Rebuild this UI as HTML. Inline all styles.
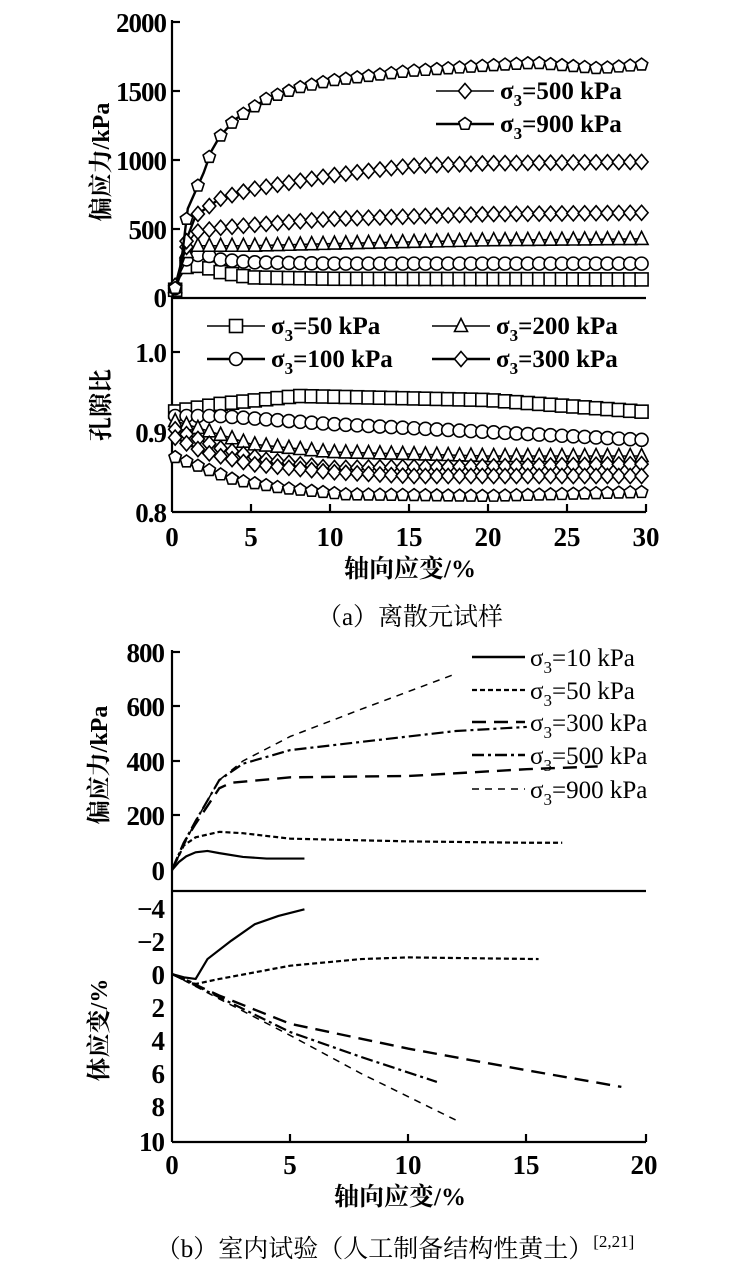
<!DOCTYPE html>
<html><head><meta charset="utf-8"><style>
html,body{margin:0;padding:0;background:#fff}
svg{display:block}
text{font-family:"Liberation Serif","Noto Serif CJK SC",serif;fill:#000}
</style></head><body>
<svg id="s" width="748" height="1273" viewBox="0 0 748 1273" xmlns="http://www.w3.org/2000/svg">
<g stroke="#000" stroke-width="2.2" fill="none">
<line x1="172" y1="20" x2="172" y2="512"/>
<line x1="172" y1="298" x2="646" y2="298"/>
<line x1="172" y1="512" x2="646" y2="512"/>
<line x1="172" y1="22" x2="180" y2="22"/>
<line x1="172" y1="91" x2="180" y2="91"/>
<line x1="172" y1="160" x2="180" y2="160"/>
<line x1="172" y1="229" x2="180" y2="229"/>
<line x1="172" y1="352" x2="180" y2="352"/>
<line x1="172" y1="432" x2="180" y2="432"/>
<line x1="251" y1="512" x2="251" y2="504"/><line x1="330" y1="512" x2="330" y2="504"/>
<line x1="409" y1="512" x2="409" y2="504"/><line x1="488" y1="512" x2="488" y2="504"/>
<line x1="567" y1="512" x2="567" y2="504"/><line x1="646" y1="512" x2="646" y2="504"/>
<line x1="172" y1="650" x2="172" y2="1142"/>
<line x1="172" y1="891" x2="646" y2="891"/>
<line x1="172" y1="1142" x2="646" y2="1142"/>
<line x1="172" y1="652" x2="180" y2="652"/><line x1="172" y1="706" x2="180" y2="706"/>
<line x1="172" y1="761" x2="180" y2="761"/><line x1="172" y1="815" x2="180" y2="815"/>
<line x1="290" y1="1142" x2="290" y2="1134"/><line x1="408" y1="1142" x2="408" y2="1134"/>
<line x1="526" y1="1142" x2="526" y2="1134"/><line x1="646" y1="1142" x2="646" y2="1134"/>
</g>
<g id="dyn"></g>
<g font-size="27" font-weight="bold" text-anchor="end" letter-spacing="-1">
<text x="166" y="32">2000</text><text x="166" y="101">1500</text><text x="166" y="170">1000</text>
<text x="166" y="239">500</text><text x="166" y="307">0</text>
<text x="166" y="362">1.0</text><text x="166" y="442">0.9</text><text x="166" y="522">0.8</text>
</g>
<g font-size="27" font-weight="bold" text-anchor="middle">
<text x="172" y="546">0</text><text x="251" y="546">5</text><text x="330" y="546">10</text>
<text x="409" y="546">15</text><text x="488" y="546">20</text><text x="567" y="546">25</text><text x="646" y="546">30</text>
<text x="410" y="577" font-size="25">轴向应变/%</text>
<text x="410" y="625" font-size="25" font-weight="normal">（a）离散元试样</text>
<text x="172" y="1174">0</text><text x="290" y="1174">5</text><text x="408" y="1174">10</text>
<text x="526" y="1174">15</text><text x="644" y="1174">20</text>
<text x="400" y="1205" font-size="25">轴向应变/%</text>
<text x="395" y="1257" font-size="25" font-weight="normal">（b）室内试验（人工制备结构性黄土）<tspan font-size="17" dy="-10">[2,21]</tspan></text>
</g>
<g font-size="27" font-weight="bold" text-anchor="end" letter-spacing="-1">
<text x="164" y="662">800</text><text x="164" y="716">600</text><text x="164" y="771">400</text>
<text x="164" y="825">200</text><text x="164" y="880">0</text>
<text x="164" y="918">−4</text><text x="164" y="951">−2</text><text x="164" y="984">0</text>
<text x="164" y="1017">2</text><text x="164" y="1050">4</text><text x="164" y="1083">6</text>
<text x="164" y="1116">8</text><text x="164" y="1151">10</text>
</g>
<g font-size="24" font-weight="bold" text-anchor="middle">
<text transform="translate(109,162) rotate(-90)">偏应力/kPa</text>
<text transform="translate(109,405) rotate(-90)">孔隙比</text>
<text transform="translate(107,765) rotate(-90)">偏应力/kPa</text>
<text transform="translate(107,1030) rotate(-90)">体应变/%</text>
</g>
</svg>
<script>
const NS="http://www.w3.org/2000/svg",G=document.getElementById('dyn');
function el(t,a){const e=document.createElementNS(NS,t);for(const k in a)e.setAttribute(k,a[k]);G.appendChild(e);return e;}
function interp(d,x){for(let i=0;i<d.length-1;i++){if(x>=d[i][0]&&x<=d[i+1][0]){const t=(x-d[i][0])/(d[i+1][0]-d[i][0]);return d[i][1]+t*(d[i+1][1]-d[i][1]);}}return d[d.length-1][1];}
function pts(d,fx,fy){return d.map(p=>fx(p[0])+","+fy(p[1])).join(" ");}
function marker(type,x,y,r){
 r=r||6.5;let a={fill:"#fff",stroke:"#000","stroke-width":1.6};
 if(type=="sq")el("rect",Object.assign({x:x-r,y:y-r,width:2*r,height:2*r},a));
 else if(type=="ci")el("circle",Object.assign({cx:x,cy:y,r:r},a));
 else if(type=="tr")el("polygon",Object.assign({points:`${x},${y-r-1} ${x-r},${y+r-1} ${x+r},${y+r-1}`},a));
 else if(type=="di")el("polygon",Object.assign({points:`${x},${y-r-1} ${x+r},${y} ${x},${y+r+1} ${x-r},${y}`},a));
 else if(type=="pe"){let s="";for(let i=0;i<5;i++){const an=-Math.PI/2+i*2*Math.PI/5;s+=(x+r*Math.cos(an))+","+(y+r*Math.sin(an))+" ";}el("polygon",Object.assign({points:s},a));}
}
const ax=v=>172+v*15.8, ay=v=>298-v*0.1375, ey=v=>512-(v-0.8)*800;
function series(d,fy,type,w){
 el("polyline",{points:pts(d,ax,fy),fill:"none",stroke:"#000","stroke-width":w});
 for(let x=0.2;x<=30.01;x+=0.72)marker(type,ax(x),fy(interp(d,x)));
}
const q50=[[0,0],[0.5,150],[1,240],[2,230],[3,190],[5,150],[10,140],[30,135]];
const q100=[[0,0],[0.5,180],[1,300],[2,320],[3,280],[5,260],[10,250],[30,250]];
const q200=[[0,0],[0.5,200],[1,360],[1.5,380],[5,380],[10,395],[20,420],[30,430]];
const q300=[[0,0],[0.5,220],[1,400],[1.5,480],[3,510],[5,530],[10,575],[20,610],[30,620]];
const q500=[[0,0],[0.5,220],[1,450],[1.5,600],[3,720],[5,790],[10,890],[15,960],[20,980],[30,990]];
const q900=[[0,0],[0.5,180],[1,650],[2,910],[2.5,1070],[3,1170],[4,1300],[6,1450],[8,1530],[10,1580],[15,1650],[20,1690],[23,1710],[27,1670],[30,1700]];
series(q50,ay,"sq",1.6);series(q100,ay,"ci",1.6);series(q200,ay,"tr",1.6);
series(q300,ay,"di",1.6);series(q500,ay,"di",2.4);series(q900,ay,"pe",2.4);
const e50=[[0,0.925],[3,0.935],[8,0.945],[20,0.94],[30,0.925]];
const e100=[[0,0.92],[3,0.92],[10,0.91],[20,0.9],[30,0.89]];
const e200=[[0,0.915],[5,0.885],[10,0.875],[20,0.87],[30,0.87]];
const e300=[[0,0.905],[3,0.88],[6,0.865],[10,0.855],[20,0.857],[30,0.86]];
const e500=[[0,0.895],[2,0.875],[5,0.86],[10,0.85],[15,0.845],[30,0.845]];
const e900=[[0,0.87],[2,0.855],[4,0.84],[7,0.83],[11,0.822],[20,0.82],[30,0.825]];
series(e50,ey,"sq",1.6);series(e100,ey,"ci",1.6);series(e200,ey,"tr",1.6);
series(e300,ey,"di",1.6);series(e500,ey,"di",2.4);series(e900,ey,"pe",2.4);
function leg(x,y,type,w,label){el("line",{x1:x,y1:y,x2:x+58,y2:y,stroke:"#000","stroke-width":w});marker(type,x+29,y,6.5);
 const t=el("text",{x:x+64,y:y+8,"font-size":25,"font-weight":"bold"});t.innerHTML='σ<tspan font-size="17" dy="7">3</tspan><tspan dy="-7">=</tspan>'+label;}
leg(436,91,"di",1.6,"500 kPa");leg(436,124,"pe",2.4,"900 kPa");
leg(207,326,"sq",1.6,"50 kPa");leg(432,326,"tr",1.6,"200 kPa");
leg(207,359,"ci",2.4,"100 kPa");leg(432,359,"di",2.4,"300 kPa");
const bx=v=>172+v*23.65, by=v=>870-v*0.2725, vy=v=>974+v*16.6;
function line(d,fy,dash,w){el("polyline",{points:pts(d,bx,fy),fill:"none",stroke:"#000","stroke-width":w,"stroke-dasharray":dash});}
const S="",D50="5,3",D300="14,8",D500="12,4,3,4",D900="7,6";
line([[0,0],[0.3,30],[0.6,50],[1,65],[1.5,70],[2,62],[3,48],[4,42],[5.6,42]],by,S,2.2);
line([[0,0],[0.5,90],[1,120],[2,140],[3,135],[5,115],[10,105],[15,100],[16.5,100]],by,D50,2.2);
line([[0,0],[0.5,100],[1,170],[2,300],[2.5,320],[5,340],[10,345],[15,370],[18,380]],by,D300,2.4);
line([[0,0],[0.5,100],[1,180],[2,330],[3,390],[5,440],[7,460],[12,510],[15,525]],by,D500,2.2);
line([[0,0],[1,180],[2,330],[3,400],[5,490],[8,590],[12,720]],by,D900,1.5);
line([[0,0],[0.5,0.2],[1,0.3],[1.5,-0.9],[2.5,-2],[3.5,-3],[4.5,-3.5],[5.6,-3.9]],vy,S,2.2);
line([[0,0],[1,0.6],[2,0.3],[5,-0.5],[8,-0.9],[10,-1],[15.5,-0.9]],vy,D50,2.2);
line([[0,0],[2,1.3],[5,3],[10,4.5],[15,5.8],[19,6.8]],vy,D300,2.4);
line([[0,0],[2,1.4],[5,3.5],[8,5],[11.2,6.5]],vy,D500,2.2);
line([[0,0],[2,1.5],[5,3.7],[8,6],[12,8.8]],vy,D900,1.5);
function legb(y,dash,w,label){el("line",{x1:472,y1:y,x2:525,y2:y,stroke:"#000","stroke-width":w,"stroke-dasharray":dash});
 const t=el("text",{x:530,y:y+9,"font-size":25,"font-weight":"normal"});t.innerHTML='σ<tspan font-size="17" dy="7">3</tspan><tspan dy="-7">=</tspan>'+label;}
legb(657,S,2.4,"10 kPa");legb(690,D50,2.2,"50 kPa");legb(722,D300,2.6,"300 kPa");legb(755,D500,2.4,"500 kPa");legb(789,D900,1.5,"900 kPa");
</script>
</body></html>
